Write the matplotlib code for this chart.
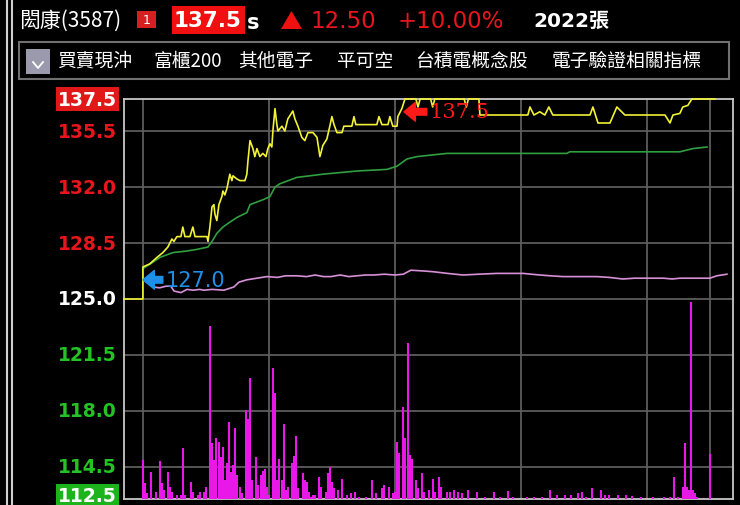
import matplotlib
matplotlib.use("Agg")
import matplotlib.pyplot as plt
import matplotlib.transforms as mtransforms
from matplotlib.patches import Rectangle, Polygon
from matplotlib.lines import Line2D

# ---------------- data ----------------
# time in minutes after 09:00
price_t = [-9.0, 0.0, 0.0, 3.3, 6.7, 9.5, 11.9, 13.8, 14.8, 16.2, 18.1, 19.0, 20.0, 22.4, 23.8, 24.8,
           30.5, 31.0, 31.9, 32.9, 33.8, 34.3, 35.2, 36.2, 37.6, 38.1, 39.0, 40.0, 41.4, 42.4, 42.9,
           44.8, 46.2, 48.6, 49.5, 50.0, 51.0, 52.4, 53.3, 54.3, 55.7, 57.1, 58.6, 59.5, 60.5, 61.4,
           61.9, 62.9, 63.8, 64.3, 66.2, 67.6, 69.0, 71.4, 72.4, 73.8, 75.7, 77.1, 78.6, 81.0, 82.9,
           84.3, 85.7, 87.6, 89.0, 90.0, 91.0, 92.4, 94.8, 95.7, 99.5, 100.5, 101.4, 111.4, 112.4,
           113.8, 116.7, 117.6, 119.0, 121.0, 121.4, 123.3, 124.8, 130.0, 131.0, 132.0, 137.0, 138.0,
           139.0, 153.0, 154.0, 155.0, 160.0, 160.5, 183.3, 184.3, 186.2, 189.0, 191.4, 193.3, 195.2,
           212.9, 214.3, 216.7, 222.4, 225.7, 229.5, 248.6, 251.0, 252.4, 255.7, 257.1, 259.5, 261.4,
           272.4]
price_v = [125.0, 125.0, 127.0, 127.2, 127.6, 127.9, 128.25, 128.75, 128.6, 128.9, 128.9, 129.5, 128.9,
           128.9, 129.5, 128.9, 128.9, 128.6, 129.5, 130.75, 130.9, 130.3, 129.9, 130.9, 131.4, 131.75,
           131.5, 131.9, 132.8, 132.4, 132.7, 132.5, 132.4, 132.4, 132.8, 133.6, 134.9, 134.4, 133.9,
           134.4, 133.9, 134.1, 133.9, 134.4, 134.7, 134.5, 135.5, 136.9, 135.9, 135.5, 135.8, 135.5,
           136.25, 136.75, 136.25, 135.8, 135.1, 134.9, 135.4, 135.4, 135.1, 133.9, 134.6, 135.0,
           135.8, 136.4, 135.9, 135.4, 135.4, 135.8, 135.8, 136.4, 135.9, 135.9, 136.4, 135.9, 135.9,
           136.4, 135.8, 135.8, 136.4, 136.9, 137.5, 137.5, 137.0, 137.5, 137.5, 137.0, 137.5, 137.5,
           137.0, 137.5, 137.5, 136.5, 136.5, 137.0, 136.5, 136.7, 136.5, 137.0, 136.5, 136.5, 137.0,
           136.0, 136.0, 137.0, 136.5, 136.5, 136.0, 136.5, 136.6, 137.0, 137.1, 137.5, 137.5]

avg_t = [0.0, 4.8, 8.1, 14.3, 21.0, 25.7, 31.0, 32.9, 35.2, 38.1, 41.4, 44.8, 49.5, 51.0, 57.1, 60.5,
         62.9, 65.2, 73.3, 85.7, 101.9, 116.2, 121.0, 125.7, 130.5, 144.8, 201.9, 203.3, 255.7, 261.9,
         268.6]
avg_v = [126.9, 127.3, 127.6, 127.9, 128.0, 128.1, 128.25, 128.6, 129.1, 129.5, 129.8, 130.1, 130.4,
         130.9, 131.2, 131.4, 132.0, 132.2, 132.6, 132.8, 133.0, 133.1, 133.3, 133.75, 133.9, 134.1,
         134.1, 134.2, 134.2, 134.4, 134.5]

ref_t = [4.8, 8.0, 11.0, 13.3, 14.8, 18.1, 21.0, 24.0, 27.0, 29.0, 33.0, 38.6, 43.3, 45.7, 49.5, 54.3,
         59.0, 64.0, 68.0, 73.3, 78.0, 82.0, 86.0, 89.5, 94.0, 98.0, 101.9, 106.0, 110.0, 115.0, 120.0,
         124.0, 127.6, 133.8, 138.6, 145.0, 152.4, 160.0, 168.6, 175.0, 181.0, 185.0, 189.0, 194.0,
         200.0, 208.0, 216.2, 222.0, 228.6, 234.0, 240.0, 248.0, 252.0, 255.7, 262.0, 270.0, 273.3,
         278.1]
ref_v = [125.75, 125.7, 125.8, 125.8, 125.5, 125.4, 125.6, 125.55, 125.6, 125.55, 125.6, 125.55, 125.75,
         126.05, 126.2, 126.3, 126.4, 126.35, 126.45, 126.45, 126.4, 126.5, 126.4, 126.4, 126.5, 126.4,
         126.45, 126.5, 126.5, 126.55, 126.5, 126.55, 126.8, 126.75, 126.7, 126.6, 126.5, 126.55, 126.6,
         126.6, 126.6, 126.55, 126.5, 126.45, 126.4, 126.4, 126.4, 126.35, 126.25, 126.3, 126.3, 126.3,
         126.25, 126.3, 126.3, 126.3, 126.45, 126.55]

vol_t = [0, 1, 2, 4, 6, 8, 9, 10, 12, 13, 14, 16, 18, 19, 20, 23, 24, 26, 27, 29, 30,
         32, 33, 34, 35, 36, 37, 38, 39, 40, 41, 42, 43, 44, 45, 46, 47, 49, 50, 51, 52, 54, 55,
         56, 57, 58, 59, 60, 62, 63, 64, 65, 66, 67, 68, 69, 71, 72, 73, 74, 76, 77, 78, 79, 80,
         81, 82, 84, 85, 87, 88, 89, 90, 91, 93, 95, 97, 99, 101, 103, 106,
         109, 111, 114, 115, 117, 119, 120, 121, 122, 124, 125, 126, 127, 128, 130, 131, 133, 134,
         136, 138, 139, 141, 142, 145, 146, 148, 150, 152, 155, 159, 163, 167, 170, 174, 176, 183,
         186, 190, 194, 197, 201, 204, 207, 209, 211, 214, 218, 220, 222, 226, 230, 233, 237, 243,
         248, 251, 253, 255, 257, 258, 259, 260, 261, 262, 263, 264, 270]
vol_v = [39, 16, 6, 27, 7, 38, 16, 9, 27, 12, 7, 4, 4, 51, 4, 17, 7, 4, 7, 7, 12,
         173, 56, 39, 61, 57, 42, 52, 19, 36, 77, 27, 34, 71, 24, 12, 6, 89, 80, 121, 19, 42, 14,
         24, 28, 30, 12, 4, 131, 106, 19, 40, 19, 75, 9, 12, 36, 43, 63, 11, 26, 19, 17, 7, 2,
         4, 4, 22, 12, 7, 26, 32, 17, 11, 9, 20, 4, 6, 7, 2, 2,
         19, 6, 11, 14, 12, 6, 7, 57, 46, 92, 61, 156, 44, 40, 19, 11, 26, 7,
         9, 20, 7, 22, 12, 7, 7, 9, 7, 6, 9, 7, 2, 7, 2, 8, 2, 2,
         2, 2, 9, 4, 4, 4, 6, 7, 2, 11, 9, 4, 4, 4, 4, 3, 2, 2,
         2, 2, 22, 2, 12, 56, 12, 9, 197, 9, 6, 2, 45]

ytick_vals = [137.5, 135.5, 132.0, 128.5, 125.0, 121.5, 118.0, 114.5, 112.5]
ytick_labels = ["137.5", "135.5", "132.0", "128.5", "125.0", "121.5", "118.0", "114.5", "112.5"]
ytick_colors = ["white", "#e8161c", "#e8161c", "#e8161c", "white", "#22c322", "#22c322", "#22c322", "white"]
grid_y = [135.5, 132.0, 128.5, 125.0, 121.5, 118.0, 114.5]
grid_x = [0, 60, 120, 180, 240, 270]

tabs = ["買賣現沖", "富櫃200", "其他電子", "平可空", "台積電概念股", "電子驗證相關指標"]
tab_x = [57, 153, 238, 337, 415, 552]

CJK = ["Noto Sans CJK TC", "DejaVu Sans"]
W, H = 740, 506

fig = plt.figure(figsize=(W / 100, H / 100), dpi=100, facecolor="black")


def fx(x):
    return x / W


def fy(y):
    return 1 - y / H


ax = fig.add_axes([fx(124), fy(500), 609 / W, 400 / H])
ax.set_facecolor("black")
ax.set_xlim(-9, 281)
ax.set_ylim(112.5, 137.5)

for g in grid_y:
    ax.axhline(g, color="#5c5c5c", lw=1.3, zorder=1)
for g in grid_x:
    ax.axvline(g, color="#5c5c5c", lw=1.3, zorder=1)

# volume bars on twin axis
ax2 = ax.twinx()
ax2.set_ylim(0, 400)
ax2.vlines(vol_t, 0, vol_v, colors="#e818e8", linewidth=1.5, zorder=2)
ax2.set_yticks([])
for s in ax2.spines.values():
    s.set_visible(False)

ax3 = ax.twinx()
ax3.set_ylim(112.5, 137.5)
ax3.set_yticks([])
for s in ax3.spines.values():
    s.set_visible(False)
ax3.plot(ref_t, ref_v, color="#d890d8", lw=1.2, zorder=3)
ax3.plot(avg_t, avg_v, color="#2f9f3f", lw=1.2, zorder=3)
ax3.plot(price_t, price_v, color="#f2f236", lw=1.2, zorder=4, clip_on=False)

ax3.annotate("127.0", xy=(0, 126.2), xytext=(10.8, 126.2), color="#1e8fe6", fontsize=15,
             fontfamily="DejaVu Sans", va="center", ha="left", zorder=6,
             arrowprops=dict(arrowstyle="simple,head_width=0.9,head_length=0.55,tail_width=0.32",
                             color="#1e8fe6", shrinkA=0, shrinkB=0))
ax3.annotate("137.5", xy=(124.3, 136.7), xytext=(136.5, 136.7), color="#ff1a1a", fontsize=15,
             fontfamily="DejaVu Serif", va="center", ha="left", zorder=6,
             arrowprops=dict(arrowstyle="simple,head_width=0.9,head_length=0.55,tail_width=0.32",
                             color="#ff1a1a", shrinkA=0, shrinkB=0))

ax.set_xticks([])
ax.set_yticks([])
# y-axis labels drawn as text at the left of the plot frame
ltrans = mtransforms.blended_transform_factory(fig.transFigure, ax.transData)
for v, lab, c in zip(ytick_vals, ytick_labels, ytick_colors):
    yy = v
    if v == 112.5:
        yy = 112.5 + 3.5 / 16
    t = ax.text(fx(117), yy, lab, transform=ltrans, color=c, fontsize=13.5, fontweight="bold",
                family="DejaVu Sans", ha="right", va="center", clip_on=False)
    if v == 137.5:
        t.set_bbox(dict(boxstyle="square,pad=0.12", facecolor="#e01818", edgecolor="none"))
    if v == 112.5:
        t.set_bbox(dict(boxstyle="square,pad=0.12", facecolor="#1db31d", edgecolor="none"))

for s in ax.spines.values():
    s.set_color("#c8c8c8")
    s.set_linewidth(1.3)

# ---------------- header ----------------
fig.add_artist(Line2D([fx(7), fx(7)], [0, 1], color="#d0d0d0", lw=1.5))
fig.add_artist(Line2D([fx(12), fx(12)], [0, 1], color="#d0d0d0", lw=1.5))

fig.text(fx(19), fy(21), "閎康(3587)", color="white", fontsize=15, family=CJK, va="center", ha="left")
fig.add_artist(Rectangle((fx(137), fy(29)), 19 / W, 17 / H, facecolor="#d42020", edgecolor="none"))
fig.text(fx(146.5), fy(20.5), "1", color="white", fontsize=9, ha="center", va="center")
fig.add_artist(Rectangle((fx(172), fy(35)), 73 / W, 28 / H, facecolor="#f01010", edgecolor="none"))
fig.text(fx(208), fy(21), "137.5", color="white", fontsize=15.5, fontweight="bold", ha="center", va="center")
fig.text(fx(247), fy(23), "s", color="white", fontsize=15, fontweight="bold", ha="left", va="center")
fig.add_artist(Polygon([(fx(281), fy(30)), (fx(302), fy(30)), (fx(291.5), fy(12))], closed=True,
                       facecolor="#f01010", edgecolor="none"))
fig.text(fx(310), fy(21), "12.50", color="#e8161c", fontsize=16.5, ha="left", va="center")
fig.text(fx(398), fy(21), "+10.00%", color="#e8161c", fontsize=16.5, ha="left", va="center")
fig.text(fx(533), fy(21), "2022張", color="white", fontsize=14.5, fontweight="bold",
         family=["DejaVu Sans", "Noto Sans CJK TC"], ha="left", va="center")

fig.add_artist(Rectangle((fx(19), fy(80)), 710 / W, 37 / H, facecolor="none", edgecolor="#707070", lw=1.5))
fig.add_artist(Rectangle((fx(26), fy(75)), 24 / W, 25 / H, facecolor="#9a9aac", edgecolor="none"))
fig.add_artist(Line2D([fx(33), fx(38), fx(43)], [fy(63), fy(69), fy(63)], color="white", lw=1.3))
for t, x in zip(tabs, tab_x):
    fig.text(fx(x), fy(61), t, color="white", fontsize=13.5, family=CJK, ha="left", va="center")

fig.savefig("out.png", dpi=100, facecolor="black")
